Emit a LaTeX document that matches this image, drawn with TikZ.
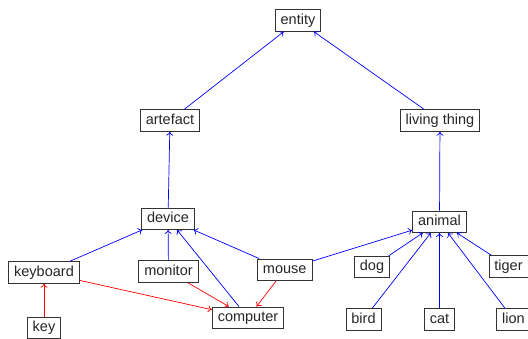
\documentclass[tikz,border=0pt]{standalone}
\usepackage{fontspec}
\setmainfont{Liberation Sans}
\usetikzlibrary{arrows.meta}
\begin{document}
\begin{tikzpicture}[x=1pt,y=-1pt,
  box/.style={draw=black!80,line width=0.8pt,rectangle,inner xsep=5.5pt,inner ysep=3.5pt,
    text height=11pt,text depth=3.5pt,font=\fontsize{14.5}{16}\selectfont,text=black!85},
  isa/.style={draw=blue,line width=0.7pt,-{To[length=4pt,width=7pt]}},
  partof/.style={draw=red,line width=0.7pt,-{To[length=4pt,width=7pt]}}]
\useasboundingbox (0,0) rectangle (528,339);
\node[box] (entity) at (298,20.5) {entity};
\node[box] (artefact) at (170,120.5) {artefact};
\node[box] (living) at (440,120.5) {living thing};
\node[box] (device) at (168,218.7) {device};
\node[box] (animal) at (439.5,221.7) {animal};
\node[box] (keyboard) at (44,272.5) {keyboard};
\node[box] (monitor) at (168.5,271.5) {monitor};
\node[box] (mouse) at (284.7,269.7) {mouse};
\node[box] (key) at (44,328) {key};
\node[box] (computer) at (248,317.7) {computer};
\node[box] (dog) at (372,267) {dog};
\node[box] (tiger) at (508.5,266.3) {tiger};
\node[box] (bird) at (363.5,319.5) {bird};
\node[box] (cat) at (439.5,319.5) {cat};
\node[box] (lion) at (513.5,319.5) {lion};
\draw[isa] (artefact) -- (entity);
\draw[isa] (living) -- (entity);
\draw[isa] (device) -- (artefact);
\draw[isa] (animal) -- (living);
\draw[isa] (keyboard) -- (device);
\draw[isa] (monitor) -- (device);
\draw[isa] (computer) -- (device);
\draw[isa] (mouse) -- (device);
\draw[isa] (mouse) -- (animal);
\draw[isa] (dog) -- (animal);
\draw[isa] (bird) -- (animal);
\draw[isa] (cat) -- (animal);
\draw[isa] (lion) -- (animal);
\draw[isa] (tiger) -- (animal);
\draw[partof] (key) -- (keyboard);
\draw[partof] (keyboard) -- (computer);
\draw[partof] (monitor) -- (computer);
\draw[partof] (mouse) -- (computer);
\end{tikzpicture}
\end{document}
